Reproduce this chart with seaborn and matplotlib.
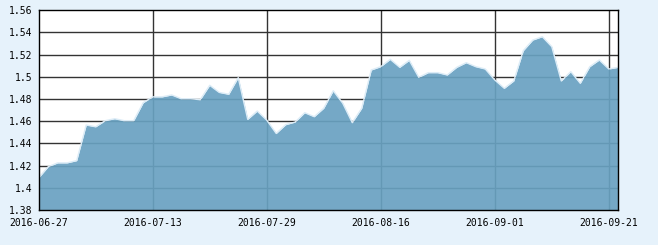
import matplotlib
matplotlib.use("Agg")
import matplotlib.pyplot as plt
import seaborn as sns
import pandas as pd
import numpy as np

# trading days (Chinese market; 2016-09-15/16 Mid-Autumn holiday)
dates = [d.strftime("%Y-%m-%d") for d in pd.bdate_range("2016-06-27", "2016-09-22")
         if d.strftime("%Y-%m-%d") not in ("2016-09-15", "2016-09-16")]

values = [1.409, 1.419, 1.4225, 1.4225, 1.4245, 1.4566, 1.455, 1.4605, 1.4623, 1.4605,
          1.4605, 1.4767, 1.482, 1.482, 1.4837, 1.4803, 1.4803, 1.4794, 1.4924, 1.486,
          1.4843, 1.4993, 1.4617, 1.4692, 1.461, 1.449, 1.4569, 1.4593, 1.4677, 1.4641,
          1.4717, 1.4875, 1.4762, 1.4587, 1.4717, 1.5062, 1.5092, 1.5158, 1.5086, 1.5149,
          1.4996, 1.5038, 1.5038, 1.5017, 1.5086, 1.5128, 1.5092, 1.5071, 1.4972, 1.4897,
          1.4963, 1.5236, 1.5332, 1.5362, 1.5272, 1.4963, 1.5047, 1.4942, 1.5092, 1.5152,
          1.5071, 1.5086]

tick_dates = ["2016-06-27", "2016-07-13", "2016-07-29", "2016-08-16", "2016-09-01", "2016-09-21"]
y_ticks = [1.38, 1.40, 1.42, 1.44, 1.46, 1.48, 1.50, 1.52, 1.54, 1.56]

df = pd.DataFrame({"date": dates, "value": values})
df["pos"] = range(len(df))

sns.set_style("white")
plt.rcParams["font.family"] = ["DejaVu Sans Mono"]

bg = "#e6f2fb"
fig = plt.figure(figsize=(6.58, 2.45), dpi=100, facecolor=bg)
ax = fig.add_axes([38.7 / 658, 35 / 245, (618.3 - 38.7) / 658, (210 - 10.3) / 245])
ax.set_facecolor("white")

# grid below the fill
for y in y_ticks[1:-1]:
    ax.axhline(y, color="#333333", lw=1.0, zorder=1)
tick_pos = [dates.index(d) for d in tick_dates]
for p in tick_pos[1:]:
    ax.axvline(p, color="#333333", lw=1.0, zorder=1)

ax.fill_between(df["pos"], df["value"], 1.38, color="#69a1c1", alpha=0.92, lw=0, zorder=2)
sns.lineplot(data=df, x="pos", y="value", ax=ax, color="#dcecf7", lw=1.0, zorder=3)

ax.set_xlim(0, len(df) - 1)
ax.set_ylim(1.38, 1.56)
ax.set_xticks(tick_pos)
ax.set_xticklabels(tick_dates)
ax.set_yticks(y_ticks)
ax.set_yticklabels(["%g" % v for v in y_ticks])
ax.set_xlabel("")
ax.set_ylabel("")
ax.tick_params(axis="both", direction="out", length=3, width=1, color="black",
               labelsize=7, labelcolor="black", pad=1.5)
ax.tick_params(axis="x", pad=2.5)
for s in ax.spines.values():
    s.set_color("black")
    s.set_linewidth(1.0)
    s.set_zorder(5)

fig.savefig("out.png", dpi=100, facecolor=bg)
